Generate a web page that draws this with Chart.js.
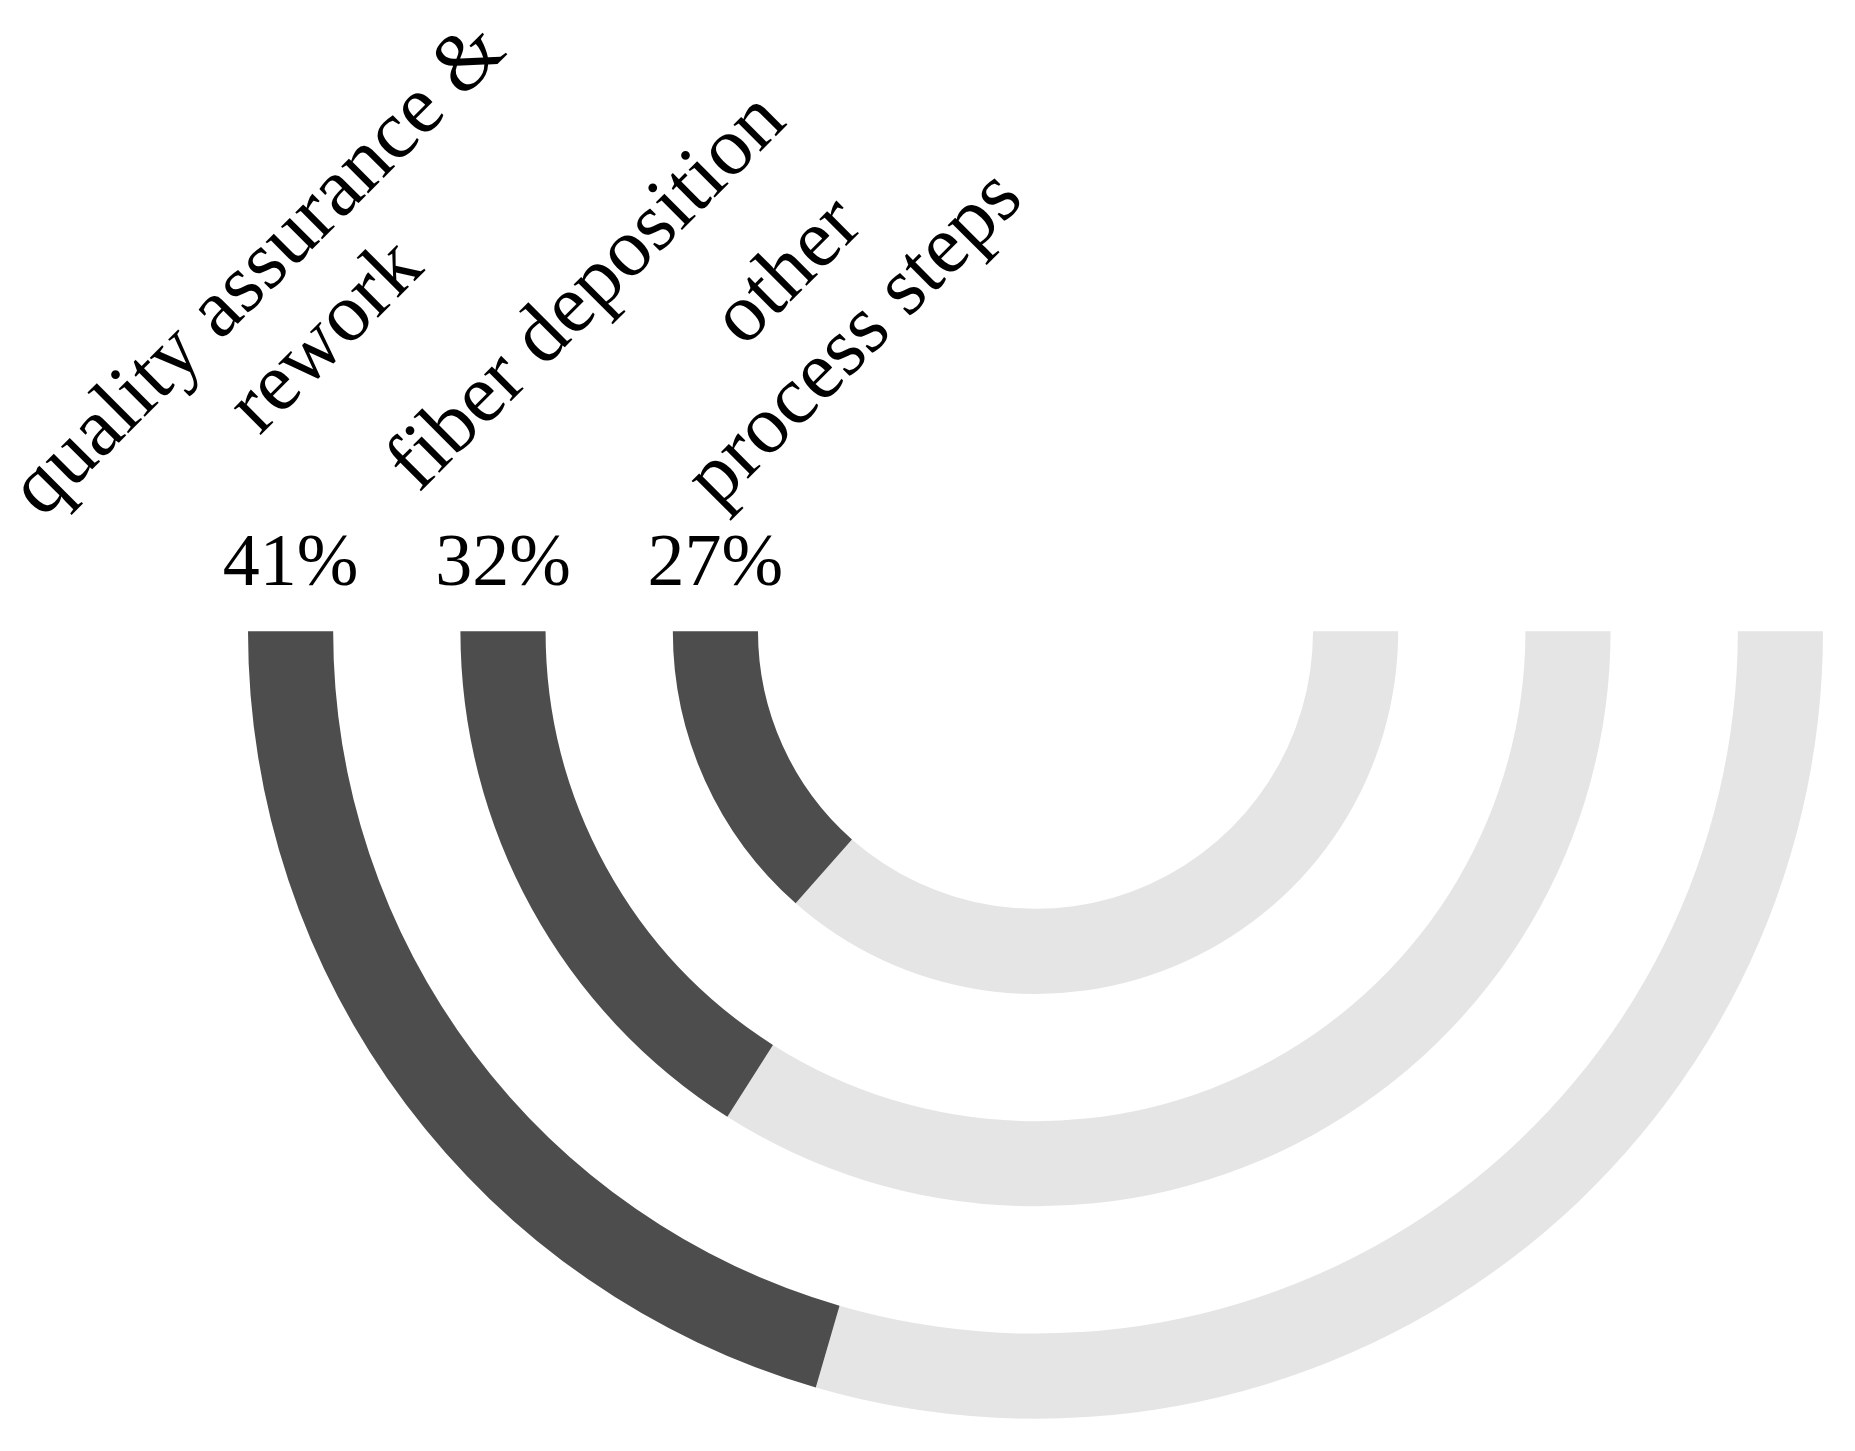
<!DOCTYPE html>
<html>
<head>
<meta charset="utf-8">
<script src="https://cdn.jsdelivr.net/npm/chart.js@4.4.0/dist/chart.umd.min.js"></script>
<style>
	html, body { margin: 0; padding: 0; background: #fff; }
	#wrap { width: 1855px; height: 1451px; position: relative; }
</style>
</head>
<body>
<div id="wrap"><canvas id="myChart"></canvas></div>
<script>
// shares of process time (percent), outer ring first
var categories = [["quality assurance &", "rework"], ["fiber deposition"], ["other", "process steps"]];
var shares = [41, 32, 27];
var percentLabels = ["41%", "32%", "27%"];

var DARK = "#4d4d4d";
var LIGHT = "#e5e5e5";

// build rings: value ring, then an empty spacer ring between them
var datasets = [];
for (var i = 0; i < shares.length; i++) {
	datasets.push({
		label: categories[i].join(" "),
		data: [100 - shares[i], shares[i]],
		backgroundColor: [LIGHT, DARK],
		borderWidth: 0,
		weight: 85
	});
	if (i < shares.length - 1) {
		datasets.push({
			label: "",
			data: [1],
			backgroundColor: ["rgba(0,0,0,0)"],
			borderWidth: 0,
			weight: 127
		});
	}
}

// label block centre, relative to the left end of each ring
var labelOffsets = [[3, -327], [85, -338], [107, -325]];

var labelPlugin = {
	id: "ringLabels",
	afterDraw: function(chart) {
		var ctx = chart.ctx;
		var ringIdx = 0;
		ctx.save();
		ctx.fillStyle = "#000";
		chart.data.datasets.forEach(function(ds, di) {
			if (!ds.label) return;
			var arc = chart.getDatasetMeta(di).data[1];
			var midR = (arc.innerRadius + arc.outerRadius) / 2;
			var x = arc.x - midR;
			var y = arc.y;
			// percentage above the ring end
			ctx.font = "74px 'Liberation Serif'";
			ctx.textAlign = "center";
			ctx.textBaseline = "alphabetic";
			ctx.fillText(percentLabels[ringIdx], x, y - 46);
			// rotated category name
			var lines = categories[ringIdx];
			var off = labelOffsets[ringIdx];
			ctx.save();
			ctx.translate(x + off[0], y + off[1]);
			ctx.rotate(-Math.PI / 4);
			ctx.font = "83px 'Liberation Serif'";
			ctx.textBaseline = "middle";
			var lh = 95;
			for (var k = 0; k < lines.length; k++) {
				ctx.fillText(lines[k], 0, (k - (lines.length - 1) / 2) * lh);
			}
			ctx.restore();
			ringIdx++;
		});
		ctx.restore();
	}
};

var ctx = document.getElementById("myChart").getContext("2d");
var myChart = new Chart(ctx, {
	type: "doughnut",
	data: {
		labels: ["rest", "share"],
		datasets: datasets
	},
	options: {
		responsive: true,
		maintainAspectRatio: false,
		animation: false,
		rotation: 90,
		circumference: 180,
		cutout: "35.24%",
		layout: {
			padding: { left: 248, right: 32, top: 631, bottom: 32 }
		},
		plugins: {
			legend: { display: false },
			tooltip: { enabled: false }
		}
	},
	plugins: [labelPlugin]
});
</script>
</body>
</html>
